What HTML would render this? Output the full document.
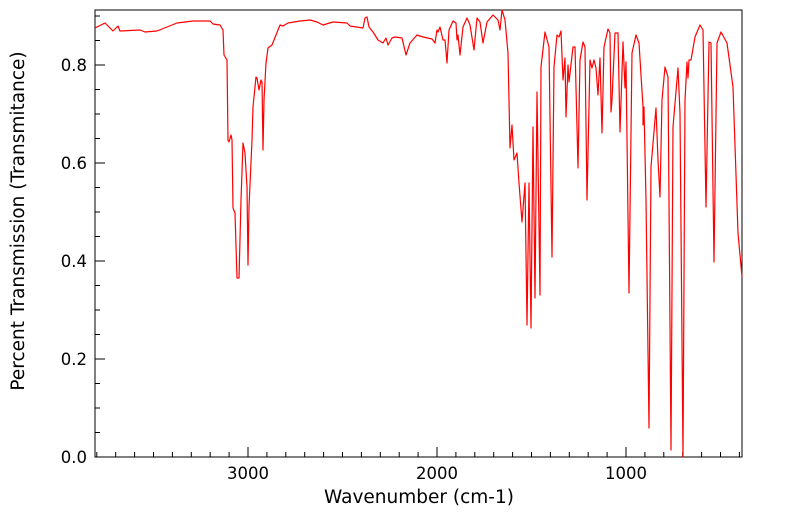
<!DOCTYPE html>
<html><head><style>
body{margin:0;background:#fff;}
svg text{font-family:"DejaVu Sans","Liberation Sans",sans-serif;fill:#000;}
</style></head><body>
<svg width="799" height="516" xmlns="http://www.w3.org/2000/svg">
<rect x="95" y="10" width="647" height="447" fill="none" stroke="#000" stroke-width="1"/>
<g id="ticks" stroke="#000" stroke-width="1"></g>
<g font-size="16.5">
<text x="87" y="463" text-anchor="end">0.0</text>
<text x="87" y="365" text-anchor="end">0.2</text>
<text x="87" y="267" text-anchor="end">0.4</text>
<text x="87" y="169" text-anchor="end">0.6</text>
<text x="87" y="71" text-anchor="end">0.8</text>
<text x="248" y="479" text-anchor="middle">3000</text>
<text x="437" y="479" text-anchor="middle">2000</text>
<text x="626" y="479" text-anchor="middle">1000</text>
<text x="419" y="503" text-anchor="middle" font-size="18.5">Wavenumber (cm-1)</text>
<text transform="translate(24,221) rotate(-90)" text-anchor="middle" font-size="18.5">Percent Transmission (Transmitance)</text>
</g>
<polyline fill="none" stroke="#ff0000" stroke-width="1.2" stroke-linejoin="round" points="95,28 105,23 113,31 118,26 120,31 140,30 145,32 157,31 177,23 193,21 210,21 213,24 220,25 223,30 224,55 227,60 228,140 229,142 231,135 232,140 233,208 235,213 237,278 239,278 241,200 243,143 245,153 247,187 248,265 249,207 252,140 253,107 256,77 257,78 259,90 261,80 262,82 263,150 264,100 266,63 268,48 272,45 280,25 283,26 288,23 300,21 310,20 317,22 323,25 333,22 347,23 350,26 363,28 365,18 367,17 369,27 373,32 378,40 383,43 386,38 388,45 392,38 395,37 402,38 406,55 410,43 417,35 423,37 432,39 435,43 437,30 438,32 440,27 443,40 445,40 447,63 449,30 453,21 456,23 457,40 458,35 460,55 463,27 467,18 470,25 474,50 477,18 480,22 483,43 487,22 493,15 498,20 500,30 502,10 505,20 508,53 510,148 512,125 514,160 517,153 519,183 522,222 525,183 527,325 529,183 531,328 533,127 535,298 537,92 540,295 541,67 545,32 549,47 552,257 554,67 557,35 559,37 561,31 563,80 565,58 566,117 568,65 569,82 573,47 575,47 578,168 580,60 583,42 585,47 587,200 590,60 592,68 594,60 596,68 598,95 600,58 602,133 604,47 608,29 610,33 611,112 612,100 615,33 618,33 620,132 623,42 625,88 626,62 629,293 632,53 636,35 639,43 643,107 643,125 644,107 646,200 649,428 651,167 656,108 658,160 660,197 662,100 665,67 668,77 671,450 673,127 678,68 680,113 683,457 685,100 687,62 688,78 689,60 691,60 695,37 700,25 703,30 706,207 709,42 711,43 714,262 717,43 721,32 727,43 733,87 738,233 742,277"/>
</svg>
<script>
var g=document.getElementById('ticks'),s='';
for(var i=0;i<=18;i++){var y=457-i*24.5;if(y<10)break;var L=(i%4==0)?10:5;s+='<line x1="95" y1="'+y+'" x2="'+(95+L)+'" y2="'+y+'"/>';}
for(var w=3800;w>=400;w-=100){var x=248+(3000-w)*0.189;if(x<95||x>742)continue;var L=(w%1000==0)?10:5;s+='<line x1="'+x+'" y1="457" x2="'+x+'" y2="'+(457-L)+'"/>';}
g.innerHTML=s;
</script>
</body></html>
